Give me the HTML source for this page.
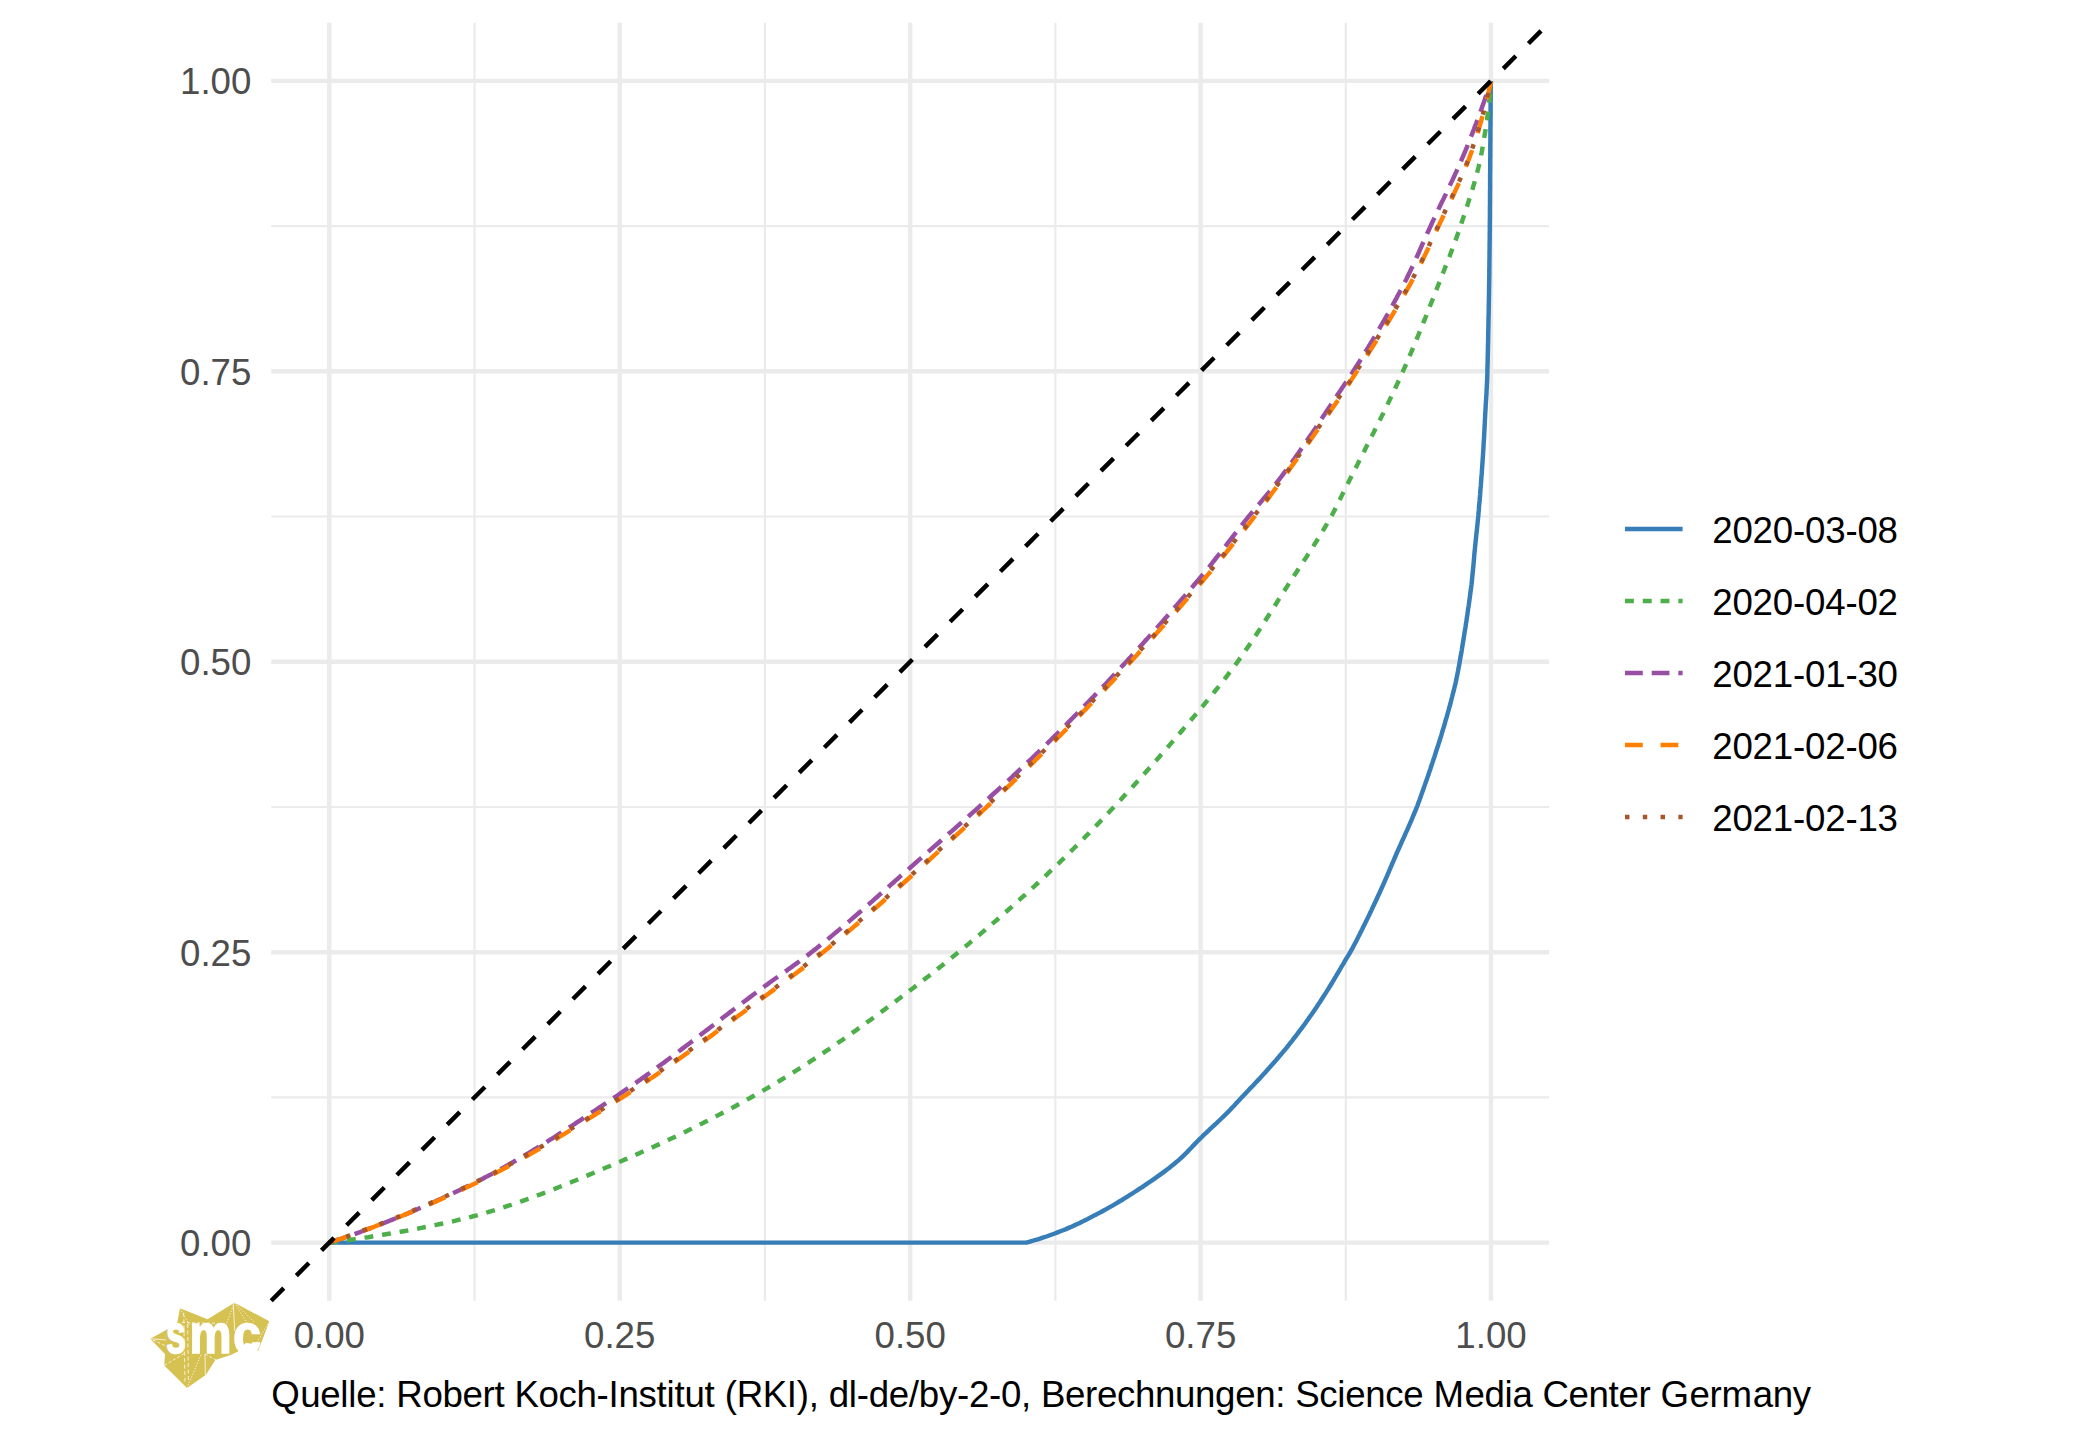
<!DOCTYPE html>
<html lang="de"><head><meta charset="utf-8"><title>Lorenzkurven</title>
<style>html,body{margin:0;padding:0;background:#fff}body{width:2100px;height:1439px;overflow:hidden}svg{display:block}text{font-family:"Liberation Sans",sans-serif;font-size:36.67px}.ax{fill:#4D4D4D}.lg{fill:#000}</style></head><body>
<svg width="2100" height="1439" viewBox="0 0 2100 1439">
<rect width="2100" height="1439" fill="#fff"/>
<g stroke="#EBEBEB" fill="none">
<path d="M271.2,1097.4H1549.1" stroke-width="2.22"/>
<path d="M271.2,807.0H1549.1" stroke-width="2.22"/>
<path d="M271.2,516.5H1549.1" stroke-width="2.22"/>
<path d="M271.2,226.1H1549.1" stroke-width="2.22"/>
<path d="M474.5,22.8V1300.7" stroke-width="2.22"/>
<path d="M764.9,22.8V1300.7" stroke-width="2.22"/>
<path d="M1055.4,22.8V1300.7" stroke-width="2.22"/>
<path d="M1345.8,22.8V1300.7" stroke-width="2.22"/>
<path d="M271.2,1242.6H1549.1" stroke-width="4.4457"/>
<path d="M271.2,952.2H1549.1" stroke-width="4.4457"/>
<path d="M271.2,661.8H1549.1" stroke-width="4.4457"/>
<path d="M271.2,371.3H1549.1" stroke-width="4.4457"/>
<path d="M271.2,80.9H1549.1" stroke-width="4.4457"/>
<path d="M329.3,22.8V1300.7" stroke-width="4.4457"/>
<path d="M619.7,22.8V1300.7" stroke-width="4.4457"/>
<path d="M910.2,22.8V1300.7" stroke-width="4.4457"/>
<path d="M1200.6,22.8V1300.7" stroke-width="4.4457"/>
<path d="M1491.0,22.8V1300.7" stroke-width="4.4457"/>
</g>
<g fill="none" stroke-width="4.4457" stroke-linejoin="round" stroke-linecap="butt">
<path d="M329.3,1242.6 L1026.2,1242.6 L1029.1,1241.8 L1032.0,1241.0 L1034.9,1240.1 L1037.8,1239.3 L1040.7,1238.4 L1043.5,1237.4 L1046.4,1236.5 L1049.2,1235.5 L1052.0,1234.5 L1054.8,1233.5 L1057.6,1232.4 L1060.4,1231.3 L1063.2,1230.2 L1066.0,1229.1 L1068.7,1227.9 L1071.5,1226.7 L1074.2,1225.4 L1076.9,1224.2 L1079.7,1222.9 L1082.4,1221.6 L1085.1,1220.2 L1087.8,1218.9 L1090.4,1217.5 L1093.1,1216.1 L1095.8,1214.8 L1098.4,1213.4 L1101.1,1212.0 L1103.7,1210.5 L1106.3,1209.1 L1108.9,1207.6 L1111.6,1206.1 L1114.2,1204.6 L1116.7,1203.1 L1119.3,1201.5 L1121.9,1200.0 L1124.5,1198.4 L1127.0,1196.8 L1129.6,1195.2 L1132.1,1193.6 L1134.6,1192.0 L1137.1,1190.4 L1139.7,1188.7 L1142.2,1187.1 L1144.7,1185.4 L1147.2,1183.7 L1149.6,1182.0 L1152.1,1180.3 L1154.6,1178.6 L1157.0,1176.9 L1159.5,1175.1 L1161.9,1173.4 L1164.3,1171.6 L1166.7,1169.8 L1169.1,1168.0 L1171.5,1166.1 L1173.8,1164.2 L1176.1,1162.3 L1178.4,1160.4 L1180.6,1158.4 L1182.8,1156.3 L1185.0,1154.2 L1187.1,1152.1 L1189.2,1149.9 L1191.3,1147.8 L1193.3,1145.6 L1195.4,1143.4 L1197.5,1141.3 L1199.6,1139.1 L1201.8,1137.0 L1203.9,1134.9 L1206.1,1132.9 L1208.3,1130.8 L1210.5,1128.7 L1212.7,1126.7 L1214.9,1124.6 L1217.1,1122.6 L1219.3,1120.5 L1221.4,1118.5 L1223.6,1116.4 L1225.7,1114.3 L1227.9,1112.2 L1230.0,1110.0 L1232.0,1107.8 L1234.1,1105.7 L1236.1,1103.4 L1238.2,1101.2 L1240.2,1099.0 L1242.3,1096.8 L1244.3,1094.7 L1246.4,1092.5 L1248.5,1090.3 L1250.5,1088.1 L1252.6,1086.0 L1254.7,1083.8 L1256.7,1081.6 L1258.8,1079.4 L1260.8,1077.2 L1262.8,1075.0 L1264.9,1072.8 L1266.9,1070.5 L1268.9,1068.3 L1270.9,1066.1 L1272.9,1063.8 L1274.9,1061.6 L1276.8,1059.3 L1278.8,1057.0 L1280.7,1054.7 L1282.7,1052.4 L1284.6,1050.1 L1286.5,1047.8 L1288.4,1045.5 L1290.2,1043.1 L1292.1,1040.8 L1293.9,1038.4 L1295.8,1036.0 L1297.6,1033.6 L1299.4,1031.2 L1301.2,1028.8 L1303.0,1026.4 L1304.8,1024.0 L1306.5,1021.5 L1308.3,1019.1 L1310.0,1016.6 L1311.7,1014.2 L1313.4,1011.7 L1315.1,1009.2 L1316.8,1006.7 L1318.4,1004.2 L1320.1,1001.7 L1321.7,999.2 L1323.3,996.7 L1325.0,994.1 L1326.6,991.6 L1328.2,989.1 L1329.8,986.5 L1331.3,984.0 L1332.9,981.4 L1334.4,978.8 L1336.0,976.2 L1337.5,973.6 L1339.0,971.1 L1340.5,968.5 L1342.0,965.9 L1343.6,963.3 L1345.1,960.7 L1346.6,958.1 L1348.2,955.6 L1349.8,953.0 L1351.2,950.4 L1352.7,947.8 L1354.1,945.1 L1355.5,942.5 L1356.9,939.8 L1358.2,937.1 L1359.6,934.4 L1360.9,931.7 L1362.3,929.0 L1363.6,926.3 L1364.9,923.7 L1366.2,921.0 L1367.6,918.3 L1368.9,915.6 L1370.2,912.8 L1371.5,910.1 L1372.7,907.4 L1374.0,904.7 L1375.3,902.0 L1376.6,899.3 L1377.8,896.5 L1379.1,893.8 L1380.3,891.1 L1381.6,888.3 L1382.8,885.6 L1384.0,882.9 L1385.2,880.1 L1386.4,877.4 L1387.6,874.6 L1388.8,871.8 L1389.9,869.1 L1391.1,866.3 L1392.3,863.5 L1393.5,860.8 L1394.7,858.0 L1395.8,855.3 L1397.0,852.5 L1398.3,849.8 L1399.5,847.0 L1400.7,844.3 L1401.9,841.5 L1403.2,838.8 L1404.4,836.1 L1405.6,833.3 L1406.9,830.6 L1408.1,827.8 L1409.3,825.1 L1410.5,822.3 L1411.7,819.6 L1412.8,816.8 L1414.0,814.0 L1415.1,811.3 L1416.3,808.5 L1417.4,805.7 L1418.4,802.9 L1419.5,800.1 L1420.5,797.3 L1421.5,794.4 L1422.5,791.6 L1423.5,788.8 L1424.5,785.9 L1425.5,783.1 L1426.5,780.3 L1427.5,777.4 L1428.5,774.6 L1429.4,771.7 L1430.4,768.9 L1431.3,766.0 L1432.3,763.2 L1433.2,760.3 L1434.2,757.5 L1435.1,754.6 L1436.0,751.8 L1436.9,748.9 L1437.9,746.1 L1438.8,743.2 L1439.7,740.3 L1440.6,737.5 L1441.5,734.6 L1442.3,731.7 L1443.2,728.9 L1444.1,726.0 L1444.9,723.1 L1445.7,720.2 L1446.6,717.3 L1447.4,714.4 L1448.2,711.5 L1449.0,708.7 L1449.8,705.8 L1450.6,702.9 L1451.3,700.0 L1452.1,697.0 L1452.8,694.1 L1453.6,691.2 L1454.3,688.3 L1455.0,685.4 L1455.7,682.5 L1456.3,679.5 L1456.9,676.6 L1457.5,673.6 L1458.1,670.7 L1458.6,667.7 L1459.2,664.8 L1459.7,661.8 L1460.2,658.9 L1460.7,655.9 L1461.3,653.0 L1461.8,650.0 L1462.2,647.0 L1462.7,644.1 L1463.2,641.1 L1463.7,638.2 L1464.2,635.2 L1464.6,632.2 L1465.1,629.3 L1465.6,626.3 L1466.0,623.3 L1466.5,620.4 L1466.9,617.4 L1467.4,614.4 L1467.8,611.4 L1468.2,608.5 L1468.7,605.5 L1469.1,602.5 L1469.5,599.6 L1469.9,596.6 L1470.3,593.6 L1470.7,590.6 L1471.1,587.6 L1471.5,584.7 L1471.8,581.7 L1472.1,578.7 L1472.4,575.7 L1472.7,572.7 L1473.0,569.7 L1473.3,566.8 L1473.6,563.8 L1473.8,560.8 L1474.1,557.8 L1474.3,554.8 L1474.6,551.8 L1474.9,548.8 L1475.2,545.8 L1475.5,542.8 L1475.8,539.8 L1476.1,536.9 L1476.4,533.9 L1476.8,530.9 L1477.1,527.9 L1477.4,524.9 L1477.7,521.9 L1478.0,518.9 L1478.3,515.9 L1478.5,513.0 L1478.8,510.0 L1479.0,507.0 L1479.3,504.0 L1479.6,501.0 L1479.8,498.0 L1480.1,495.0 L1480.3,492.0 L1480.5,489.0 L1480.8,486.0 L1481.0,483.0 L1481.2,480.0 L1481.4,477.0 L1481.7,474.0 L1481.9,471.1 L1482.1,468.1 L1482.3,465.1 L1482.5,462.1 L1482.7,459.1 L1482.9,456.1 L1483.1,453.1 L1483.3,450.1 L1483.5,447.1 L1483.6,444.1 L1483.8,441.1 L1484.0,438.1 L1484.2,435.1 L1484.3,432.1 L1484.5,429.1 L1484.6,426.1 L1484.8,423.1 L1484.9,420.1 L1485.1,417.1 L1485.2,414.1 L1485.4,411.1 L1485.6,408.1 L1485.7,405.1 L1485.9,402.1 L1486.1,399.1 L1486.3,396.1 L1486.5,393.1 L1486.6,390.1 L1486.8,387.1 L1486.9,384.1 L1487.1,381.1 L1487.2,378.1 L1487.3,375.1 L1487.4,372.1 L1487.4,369.1 L1487.5,366.1 L1487.6,363.1 L1487.7,360.1 L1487.7,357.1 L1487.8,354.1 L1487.9,351.1 L1487.9,348.1 L1488.0,345.1 L1488.1,342.1 L1488.1,339.1 L1488.2,336.1 L1488.2,333.1 L1488.3,330.1 L1488.4,327.1 L1488.4,324.1 L1488.5,321.1 L1488.5,318.1 L1488.6,315.1 L1488.7,312.1 L1488.7,309.1 L1488.8,306.1 L1488.8,303.1 L1488.9,300.1 L1488.9,297.1 L1489.0,294.1 L1489.0,291.1 L1489.1,288.1 L1489.1,285.1 L1489.2,282.1 L1489.2,279.1 L1489.3,276.1 L1489.3,273.1 L1489.3,270.1 L1489.4,267.1 L1489.4,264.1 L1489.4,261.0 L1489.5,258.0 L1489.5,255.0 L1489.5,252.0 L1489.6,249.0 L1489.6,246.0 L1489.6,243.0 L1489.7,240.0 L1489.7,237.0 L1489.7,234.0 L1489.8,231.0 L1489.8,228.0 L1489.8,225.0 L1489.8,222.0 L1489.9,219.0 L1489.9,216.0 L1489.9,213.0 L1489.9,210.0 L1489.9,207.0 L1490.0,204.0 L1490.0,201.0 L1490.0,198.0 L1490.0,195.0 L1490.0,192.0 L1490.1,189.0 L1490.1,186.0 L1490.1,183.0 L1490.1,180.0 L1490.1,177.0 L1490.1,174.0 L1490.2,171.0 L1490.2,168.0 L1490.2,165.0 L1490.2,162.0 L1490.2,159.0 L1490.3,156.0 L1490.3,153.0 L1490.3,150.0 L1490.3,147.0 L1490.3,144.0 L1490.4,140.9 L1490.4,137.9 L1490.4,134.9 L1490.4,131.9 L1490.4,128.9 L1490.5,125.9 L1490.5,122.9 L1490.5,119.9 L1490.5,116.9 L1490.6,113.9 L1490.6,110.9 L1490.6,107.9 L1490.6,104.9 L1490.6,101.9 L1490.7,98.9 L1490.7,95.9 L1490.7,92.9 L1490.7,89.9 L1490.8,86.9 L1490.8,83.9 L1490.8,80.9" stroke="#377EB8"/>
<path d="M329.3,1242.6 L332.3,1242.2 L335.3,1241.8 L338.3,1241.5 L341.2,1241.1 L344.2,1240.7 L347.2,1240.3 L350.2,1239.8 L353.1,1239.4 L356.1,1239.0 L359.1,1238.5 L362.1,1238.1 L365.0,1237.6 L368.0,1237.2 L371.0,1236.7 L373.9,1236.2 L376.9,1235.8 L379.9,1235.3 L382.8,1234.8 L385.8,1234.3 L388.8,1233.8 L391.7,1233.3 L394.7,1232.8 L397.6,1232.2 L400.6,1231.7 L403.5,1231.2 L406.5,1230.7 L409.4,1230.1 L412.4,1229.6 L415.4,1229.0 L418.3,1228.5 L421.3,1227.9 L424.2,1227.3 L427.2,1226.7 L430.1,1226.1 L433.1,1225.5 L436.1,1224.9 L439.0,1224.3 L441.9,1223.7 L444.9,1223.1 L447.8,1222.4 L450.8,1221.7 L453.7,1221.1 L456.6,1220.4 L459.5,1219.7 L462.4,1219.0 L465.4,1218.3 L468.3,1217.5 L471.1,1216.8 L474.0,1216.0 L476.9,1215.3 L479.8,1214.5 L482.7,1213.7 L485.5,1212.9 L488.4,1212.0 L491.3,1211.2 L494.1,1210.3 L497.0,1209.4 L499.9,1208.5 L502.7,1207.6 L505.6,1206.7 L508.4,1205.7 L511.3,1204.8 L514.1,1203.8 L517.0,1202.9 L519.8,1201.9 L522.7,1200.9 L525.5,1199.9 L528.3,1198.8 L531.2,1197.8 L534.0,1196.8 L536.8,1195.7 L539.6,1194.7 L542.4,1193.6 L545.3,1192.5 L548.1,1191.4 L550.9,1190.3 L553.7,1189.2 L556.5,1188.1 L559.3,1187.0 L562.1,1185.9 L564.9,1184.8 L567.7,1183.6 L570.5,1182.5 L573.3,1181.3 L576.1,1180.2 L578.9,1179.0 L581.7,1177.9 L584.5,1176.7 L587.2,1175.6 L590.0,1174.4 L592.8,1173.2 L595.6,1172.0 L598.3,1170.9 L601.1,1169.7 L603.9,1168.5 L606.6,1167.3 L609.4,1166.2 L612.1,1165.0 L614.9,1163.8 L617.7,1162.6 L620.4,1161.5 L623.2,1160.3 L625.9,1159.1 L628.7,1157.9 L631.4,1156.7 L634.2,1155.5 L636.9,1154.3 L639.7,1153.1 L642.4,1151.8 L645.1,1150.6 L647.9,1149.4 L650.6,1148.1 L653.4,1146.9 L656.1,1145.6 L658.8,1144.4 L661.6,1143.1 L664.3,1141.8 L667.0,1140.6 L669.7,1139.3 L672.5,1138.0 L675.2,1136.7 L677.9,1135.4 L680.6,1134.1 L683.3,1132.8 L686.1,1131.4 L688.8,1130.1 L691.5,1128.8 L694.2,1127.4 L696.9,1126.1 L699.6,1124.7 L702.3,1123.4 L704.9,1122.0 L707.6,1120.7 L710.3,1119.3 L713.0,1117.9 L715.7,1116.5 L718.3,1115.1 L721.0,1113.7 L723.7,1112.3 L726.3,1110.9 L729.0,1109.5 L731.6,1108.1 L734.3,1106.7 L736.9,1105.2 L739.5,1103.8 L742.2,1102.3 L744.8,1100.9 L747.4,1099.4 L750.0,1098.0 L752.6,1096.5 L755.2,1095.0 L757.8,1093.6 L760.4,1092.1 L763.0,1090.6 L765.6,1089.1 L768.2,1087.6 L770.8,1086.1 L773.3,1084.6 L775.9,1083.0 L778.5,1081.5 L781.0,1080.0 L783.6,1078.4 L786.2,1076.8 L788.7,1075.3 L791.3,1073.7 L793.8,1072.1 L796.3,1070.5 L798.9,1068.9 L801.4,1067.3 L803.9,1065.7 L806.5,1064.0 L809.0,1062.4 L811.5,1060.7 L814.0,1059.1 L816.5,1057.4 L819.1,1055.8 L821.6,1054.1 L824.1,1052.4 L826.6,1050.7 L829.1,1049.1 L831.6,1047.4 L834.0,1045.7 L836.5,1043.9 L839.0,1042.2 L841.5,1040.5 L844.0,1038.8 L846.4,1037.1 L848.9,1035.3 L851.4,1033.6 L853.8,1031.8 L856.3,1030.1 L858.7,1028.3 L861.2,1026.6 L863.6,1024.8 L866.1,1023.1 L868.5,1021.3 L871.0,1019.5 L873.4,1017.8 L875.8,1016.0 L878.3,1014.2 L880.7,1012.4 L883.1,1010.6 L885.5,1008.8 L887.9,1007.0 L890.3,1005.2 L892.8,1003.4 L895.2,1001.6 L897.6,999.8 L900.0,998.0 L902.3,996.2 L904.7,994.4 L907.1,992.6 L909.5,990.8 L911.9,989.0 L914.3,987.2 L916.6,985.3 L919.0,983.5 L921.4,981.7 L923.8,979.8 L926.1,978.0 L928.5,976.2 L930.9,974.3 L933.2,972.5 L935.6,970.6 L937.9,968.7 L940.3,966.9 L942.6,965.0 L945.0,963.1 L947.3,961.2 L949.7,959.3 L952.0,957.4 L954.4,955.5 L956.7,953.6 L959.0,951.7 L961.4,949.8 L963.7,947.9 L966.0,946.0 L968.3,944.1 L970.6,942.1 L973.0,940.2 L975.3,938.3 L977.6,936.3 L979.9,934.4 L982.2,932.4 L984.5,930.5 L986.8,928.5 L989.1,926.6 L991.3,924.6 L993.6,922.6 L995.9,920.7 L998.2,918.7 L1000.4,916.7 L1002.7,914.7 L1005.0,912.7 L1007.2,910.8 L1009.5,908.8 L1011.7,906.8 L1014.0,904.8 L1016.2,902.7 L1018.5,900.7 L1020.7,898.7 L1022.9,896.7 L1025.2,894.7 L1027.4,892.7 L1029.6,890.6 L1031.8,888.6 L1034.0,886.6 L1036.2,884.5 L1038.4,882.5 L1040.6,880.4 L1042.8,878.4 L1045.0,876.3 L1047.1,874.3 L1049.3,872.2 L1051.5,870.2 L1053.6,868.1 L1055.8,866.0 L1058.0,864.0 L1060.1,861.9 L1062.2,859.8 L1064.4,857.7 L1066.5,855.6 L1068.7,853.5 L1070.8,851.4 L1072.9,849.3 L1075.0,847.2 L1077.2,845.1 L1079.3,842.9 L1081.4,840.8 L1083.5,838.7 L1085.6,836.5 L1087.7,834.4 L1089.8,832.2 L1091.9,830.1 L1094.0,827.9 L1096.1,825.8 L1098.2,823.6 L1100.2,821.4 L1102.3,819.3 L1104.4,817.1 L1106.5,814.9 L1108.5,812.7 L1110.6,810.5 L1112.7,808.3 L1114.7,806.1 L1116.8,803.9 L1118.8,801.7 L1120.9,799.5 L1122.9,797.3 L1124.9,795.1 L1127.0,792.9 L1129.0,790.7 L1131.1,788.4 L1133.1,786.2 L1135.1,784.0 L1137.1,781.7 L1139.1,779.5 L1141.2,777.3 L1143.2,775.0 L1145.2,772.8 L1147.2,770.5 L1149.2,768.3 L1151.2,766.0 L1153.2,763.8 L1155.2,761.5 L1157.2,759.3 L1159.2,757.0 L1161.1,754.7 L1163.1,752.5 L1165.1,750.2 L1167.1,747.9 L1169.1,745.6 L1171.0,743.4 L1173.0,741.1 L1175.0,738.8 L1176.9,736.5 L1178.9,734.3 L1180.8,732.0 L1182.8,729.7 L1184.7,727.4 L1186.7,725.1 L1188.6,722.8 L1190.6,720.5 L1192.5,718.2 L1194.5,715.9 L1196.4,713.7 L1198.3,711.4 L1200.2,709.1 L1202.2,706.8 L1204.1,704.5 L1206.0,702.1 L1207.9,699.8 L1209.8,697.5 L1211.7,695.2 L1213.6,692.8 L1215.5,690.5 L1217.4,688.2 L1219.3,685.8 L1221.1,683.4 L1223.0,681.1 L1224.9,678.7 L1226.7,676.3 L1228.5,673.9 L1230.3,671.5 L1232.1,669.1 L1233.9,666.7 L1235.7,664.3 L1237.5,661.9 L1239.2,659.5 L1241.0,657.0 L1242.7,654.6 L1244.4,652.1 L1246.1,649.6 L1247.8,647.2 L1249.5,644.7 L1251.2,642.2 L1252.8,639.7 L1254.5,637.2 L1256.2,634.7 L1257.8,632.2 L1259.5,629.7 L1261.1,627.1 L1262.7,624.6 L1264.4,622.1 L1266.0,619.5 L1267.6,617.0 L1269.2,614.5 L1270.8,611.9 L1272.4,609.4 L1274.1,606.9 L1275.7,604.3 L1277.3,601.8 L1278.9,599.2 L1280.5,596.7 L1282.1,594.2 L1283.8,591.6 L1285.4,589.1 L1287.0,586.6 L1288.6,584.1 L1290.3,581.5 L1291.9,579.0 L1293.6,576.5 L1295.2,574.0 L1296.9,571.5 L1298.5,569.0 L1300.2,566.5 L1301.8,563.9 L1303.5,561.4 L1305.1,558.9 L1306.8,556.4 L1308.4,553.9 L1310.0,551.3 L1311.7,548.8 L1313.3,546.3 L1314.9,543.7 L1316.5,541.2 L1318.1,538.6 L1319.7,536.1 L1321.2,533.5 L1322.8,530.9 L1324.3,528.4 L1325.8,525.8 L1327.3,523.2 L1328.8,520.6 L1330.3,518.0 L1331.8,515.4 L1333.2,512.7 L1334.6,510.1 L1336.0,507.4 L1337.3,504.7 L1338.6,502.0 L1340.0,499.3 L1341.3,496.6 L1342.6,493.9 L1344.0,491.2 L1345.3,488.5 L1346.6,485.8 L1348.0,483.2 L1349.3,480.5 L1350.7,477.8 L1352.0,475.1 L1353.4,472.4 L1354.7,469.7 L1356.1,467.1 L1357.5,464.4 L1358.8,461.7 L1360.2,459.0 L1361.6,456.3 L1362.9,453.7 L1364.3,451.0 L1365.6,448.3 L1367.0,445.6 L1368.4,442.9 L1369.7,440.3 L1371.1,437.6 L1372.4,434.9 L1373.8,432.2 L1375.1,429.5 L1376.5,426.8 L1377.8,424.1 L1379.2,421.4 L1380.5,418.8 L1381.8,416.1 L1383.2,413.4 L1384.5,410.7 L1385.8,408.0 L1387.1,405.3 L1388.4,402.6 L1389.7,399.9 L1391.0,397.1 L1392.3,394.4 L1393.6,391.7 L1394.9,389.0 L1396.1,386.3 L1397.4,383.6 L1398.7,380.8 L1399.9,378.1 L1401.1,375.4 L1402.4,372.6 L1403.6,369.9 L1404.8,367.1 L1406.0,364.4 L1407.2,361.6 L1408.4,358.9 L1409.6,356.1 L1410.7,353.4 L1411.9,350.6 L1413.1,347.8 L1414.2,345.1 L1415.4,342.3 L1416.5,339.5 L1417.7,336.7 L1418.8,334.0 L1420.0,331.2 L1421.1,328.4 L1422.2,325.6 L1423.3,322.8 L1424.5,320.0 L1425.6,317.2 L1426.7,314.4 L1427.8,311.6 L1428.9,308.8 L1430.0,306.0 L1431.1,303.2 L1432.2,300.5 L1433.3,297.7 L1434.4,294.9 L1435.5,292.1 L1436.6,289.3 L1437.7,286.5 L1438.8,283.7 L1439.9,280.9 L1441.0,278.1 L1442.1,275.3 L1443.2,272.5 L1444.3,269.7 L1445.4,266.9 L1446.5,264.1 L1447.6,261.3 L1448.7,258.5 L1449.8,255.7 L1450.8,252.9 L1451.9,250.1 L1453.0,247.2 L1454.0,244.4 L1455.1,241.6 L1456.1,238.8 L1457.1,236.0 L1458.1,233.1 L1459.1,230.3 L1460.1,227.5 L1461.0,224.6 L1461.9,221.8 L1462.9,218.9 L1463.8,216.1 L1464.8,213.2 L1465.7,210.3 L1466.7,207.5 L1467.6,204.6 L1468.5,201.7 L1469.4,198.9 L1470.4,196.0 L1471.3,193.1 L1472.2,190.2 L1473.0,187.3 L1473.9,184.4 L1474.7,181.5 L1475.5,178.6 L1476.3,175.7 L1477.1,172.8 L1477.8,169.9 L1478.6,167.0 L1479.3,164.1 L1479.9,161.2 L1480.5,158.3 L1481.1,155.3 L1481.7,152.4 L1482.2,149.5 L1482.7,146.5 L1483.2,143.6 L1483.7,140.6 L1484.2,137.7 L1484.7,134.7 L1485.2,131.8 L1485.7,128.8 L1486.1,125.8 L1486.5,122.9 L1487.0,119.9 L1487.4,116.9 L1487.8,113.9 L1488.2,111.0 L1488.5,108.0 L1488.9,105.0 L1489.2,102.0 L1489.5,99.0 L1489.8,96.0 L1490.1,93.0 L1490.4,90.0 L1490.6,86.9 L1490.8,83.9 L1491.0,80.9" stroke="#4DAF4A" stroke-dasharray="8.89,8.89"/>
<path d="M329.3,1242.6 L332.2,1241.7 L335.1,1240.7 L337.9,1239.7 L340.8,1238.8 L343.7,1237.8 L346.5,1236.8 L349.4,1235.8 L352.2,1234.8 L355.1,1233.8 L357.9,1232.8 L360.8,1231.8 L363.6,1230.7 L366.4,1229.7 L369.3,1228.6 L372.1,1227.6 L374.9,1226.5 L377.7,1225.4 L380.6,1224.3 L383.4,1223.2 L386.2,1222.1 L389.0,1221.0 L391.8,1219.9 L394.6,1218.8 L397.4,1217.7 L400.2,1216.5 L402.9,1215.4 L405.7,1214.2 L408.5,1213.1 L411.3,1211.9 L414.0,1210.7 L416.8,1209.5 L419.5,1208.3 L422.3,1207.1 L425.1,1205.9 L427.8,1204.7 L430.5,1203.5 L433.3,1202.3 L436.0,1201.1 L438.7,1199.8 L441.5,1198.6 L444.2,1197.3 L446.9,1196.1 L449.6,1194.8 L452.3,1193.6 L455.0,1192.3 L457.7,1191.0 L460.4,1189.7 L463.1,1188.4 L465.8,1187.1 L468.5,1185.8 L471.1,1184.5 L473.8,1183.2 L476.5,1181.9 L479.1,1180.5 L481.8,1179.2 L484.4,1177.8 L487.1,1176.4 L489.7,1175.1 L492.4,1173.6 L495.0,1172.2 L497.6,1170.8 L500.3,1169.4 L502.9,1167.9 L505.5,1166.5 L508.1,1165.0 L510.7,1163.5 L513.3,1162.0 L515.9,1160.5 L518.5,1159.0 L521.1,1157.5 L523.7,1156.0 L526.3,1154.4 L528.9,1152.9 L531.4,1151.3 L534.0,1149.7 L536.6,1148.2 L539.2,1146.6 L541.7,1145.0 L544.3,1143.4 L546.8,1141.8 L549.4,1140.2 L552.0,1138.6 L554.5,1137.0 L557.0,1135.4 L559.6,1133.7 L562.1,1132.1 L564.7,1130.5 L567.2,1128.8 L569.7,1127.2 L572.3,1125.5 L574.8,1123.9 L577.3,1122.2 L579.8,1120.6 L582.3,1118.9 L584.9,1117.2 L587.4,1115.6 L589.9,1113.9 L592.4,1112.2 L594.9,1110.5 L597.4,1108.9 L599.9,1107.2 L602.4,1105.5 L604.9,1103.8 L607.4,1102.2 L609.9,1100.5 L612.4,1098.8 L614.9,1097.1 L617.4,1095.5 L619.8,1093.8 L622.3,1092.1 L624.8,1090.4 L627.3,1088.7 L629.7,1087.0 L632.2,1085.3 L634.7,1083.6 L637.1,1081.9 L639.6,1080.2 L642.0,1078.4 L644.5,1076.7 L646.9,1074.9 L649.3,1073.2 L651.8,1071.4 L654.2,1069.7 L656.6,1067.9 L659.0,1066.1 L661.5,1064.3 L663.9,1062.6 L666.3,1060.8 L668.7,1059.0 L671.1,1057.2 L673.5,1055.4 L675.9,1053.6 L678.3,1051.8 L680.7,1049.9 L683.1,1048.1 L685.5,1046.3 L687.9,1044.5 L690.3,1042.7 L692.7,1040.9 L695.1,1039.0 L697.5,1037.2 L699.9,1035.4 L702.2,1033.5 L704.6,1031.7 L707.0,1029.9 L709.4,1028.1 L711.8,1026.2 L714.2,1024.4 L716.6,1022.6 L719.0,1020.7 L721.4,1018.9 L723.7,1017.1 L726.1,1015.3 L728.5,1013.4 L730.9,1011.6 L733.3,1009.8 L735.7,1008.0 L738.1,1006.1 L740.5,1004.3 L742.9,1002.5 L745.3,1000.7 L747.7,998.9 L750.1,997.1 L752.5,995.3 L754.9,993.5 L757.3,991.7 L759.7,989.9 L762.2,988.1 L764.6,986.3 L767.0,984.6 L769.4,982.8 L771.9,981.0 L774.3,979.3 L776.8,977.5 L779.2,975.8 L781.7,974.1 L784.1,972.3 L786.6,970.6 L789.0,968.8 L791.5,967.1 L793.9,965.3 L796.3,963.6 L798.8,961.8 L801.2,960.0 L803.6,958.2 L806.0,956.4 L808.4,954.6 L810.8,952.8 L813.1,950.9 L815.5,949.1 L817.8,947.2 L820.2,945.3 L822.5,943.4 L824.8,941.6 L827.2,939.7 L829.5,937.8 L831.8,935.9 L834.1,933.9 L836.4,932.0 L838.7,930.1 L841.0,928.2 L843.3,926.2 L845.6,924.3 L847.9,922.3 L850.2,920.4 L852.5,918.4 L854.7,916.5 L857.0,914.5 L859.3,912.5 L861.6,910.6 L863.8,908.6 L866.1,906.6 L868.4,904.6 L870.6,902.6 L872.9,900.7 L875.1,898.7 L877.4,896.7 L879.6,894.7 L881.9,892.7 L884.2,890.7 L886.4,888.7 L888.7,886.7 L890.9,884.7 L893.2,882.7 L895.4,880.7 L897.7,878.7 L899.9,876.7 L902.2,874.7 L904.4,872.8 L906.7,870.8 L908.9,868.8 L911.2,866.8 L913.4,864.8 L915.7,862.8 L917.9,860.8 L920.2,858.9 L922.4,856.9 L924.7,854.9 L927.0,852.9 L929.2,850.9 L931.5,848.9 L933.7,846.9 L936.0,845.0 L938.3,843.0 L940.5,841.0 L942.8,839.0 L945.0,837.0 L947.3,835.0 L949.5,833.0 L951.8,831.1 L954.1,829.1 L956.3,827.1 L958.6,825.1 L960.8,823.1 L963.1,821.1 L965.3,819.1 L967.6,817.1 L969.8,815.1 L972.1,813.1 L974.3,811.1 L976.6,809.1 L978.8,807.1 L981.0,805.1 L983.3,803.1 L985.5,801.1 L987.8,799.1 L990.0,797.0 L992.2,795.0 L994.4,793.0 L996.7,791.0 L998.9,789.0 L1001.1,786.9 L1003.3,784.9 L1005.6,782.9 L1007.8,780.8 L1010.0,778.8 L1012.2,776.8 L1014.4,774.7 L1016.6,772.7 L1018.8,770.6 L1021.0,768.6 L1023.2,766.5 L1025.4,764.5 L1027.5,762.4 L1029.7,760.3 L1031.9,758.3 L1034.1,756.2 L1036.2,754.1 L1038.4,752.0 L1040.5,750.0 L1042.7,747.9 L1044.8,745.8 L1047.0,743.7 L1049.1,741.6 L1051.3,739.5 L1053.4,737.4 L1055.5,735.3 L1057.6,733.2 L1059.8,731.0 L1061.9,728.9 L1064.0,726.8 L1066.1,724.7 L1068.2,722.5 L1070.3,720.4 L1072.4,718.3 L1074.5,716.1 L1076.6,714.0 L1078.7,711.8 L1080.8,709.7 L1082.9,707.5 L1085.0,705.4 L1087.1,703.2 L1089.2,701.1 L1091.3,698.9 L1093.4,696.7 L1095.4,694.6 L1097.5,692.4 L1099.6,690.2 L1101.7,688.0 L1103.7,685.8 L1105.8,683.7 L1107.9,681.5 L1109.9,679.3 L1112.0,677.1 L1114.0,674.9 L1116.1,672.7 L1118.1,670.5 L1120.2,668.3 L1122.2,666.1 L1124.3,663.9 L1126.3,661.6 L1128.3,659.4 L1130.4,657.2 L1132.4,655.0 L1134.4,652.8 L1136.5,650.5 L1138.5,648.3 L1140.5,646.1 L1142.5,643.9 L1144.5,641.6 L1146.6,639.4 L1148.6,637.1 L1150.6,634.9 L1152.6,632.7 L1154.6,630.4 L1156.6,628.2 L1158.6,625.9 L1160.6,623.7 L1162.6,621.4 L1164.5,619.1 L1166.5,616.9 L1168.5,614.6 L1170.5,612.4 L1172.5,610.1 L1174.4,607.8 L1176.4,605.6 L1178.4,603.3 L1180.3,601.0 L1182.3,598.7 L1184.3,596.5 L1186.2,594.2 L1188.2,591.9 L1190.1,589.6 L1192.1,587.3 L1194.0,585.0 L1195.9,582.8 L1197.9,580.5 L1199.8,578.2 L1201.7,575.9 L1203.7,573.6 L1205.6,571.3 L1207.5,568.9 L1209.4,566.6 L1211.2,564.3 L1213.1,561.9 L1215.0,559.5 L1216.8,557.2 L1218.7,554.8 L1220.5,552.5 L1222.4,550.1 L1224.2,547.7 L1226.1,545.3 L1227.9,542.9 L1229.7,540.6 L1231.6,538.2 L1233.4,535.8 L1235.3,533.4 L1237.1,531.1 L1239.0,528.7 L1240.8,526.3 L1242.7,524.0 L1244.5,521.6 L1246.4,519.3 L1248.3,516.9 L1250.2,514.6 L1252.1,512.3 L1254.0,510.0 L1256.0,507.7 L1257.9,505.4 L1259.9,503.1 L1261.8,500.8 L1263.7,498.5 L1265.7,496.2 L1267.6,493.9 L1269.5,491.6 L1271.5,489.3 L1273.3,486.9 L1275.2,484.6 L1277.1,482.2 L1278.9,479.9 L1280.7,477.5 L1282.5,475.1 L1284.3,472.7 L1286.1,470.3 L1287.9,467.8 L1289.6,465.4 L1291.4,463.0 L1293.1,460.5 L1294.9,458.1 L1296.6,455.6 L1298.3,453.2 L1300.0,450.7 L1301.8,448.3 L1303.5,445.8 L1305.2,443.3 L1306.9,440.8 L1308.5,438.3 L1310.2,435.9 L1311.9,433.4 L1313.6,430.9 L1315.3,428.4 L1316.9,425.9 L1318.6,423.4 L1320.3,420.9 L1321.9,418.4 L1323.6,415.8 L1325.3,413.3 L1326.9,410.8 L1328.6,408.3 L1330.3,405.8 L1331.9,403.3 L1333.6,400.8 L1335.3,398.3 L1336.9,395.8 L1338.6,393.3 L1340.3,390.8 L1341.9,388.3 L1343.6,385.8 L1345.3,383.3 L1347.0,380.8 L1348.7,378.3 L1350.4,375.8 L1352.0,373.3 L1353.6,370.8 L1355.2,368.3 L1356.8,365.7 L1358.4,363.2 L1360.0,360.7 L1361.6,358.1 L1363.2,355.5 L1364.8,353.0 L1366.3,350.4 L1367.9,347.8 L1369.5,345.3 L1371.0,342.7 L1372.6,340.1 L1374.1,337.5 L1375.6,334.9 L1377.2,332.3 L1378.7,329.8 L1380.2,327.2 L1381.7,324.5 L1383.2,321.9 L1384.7,319.3 L1386.2,316.7 L1387.7,314.1 L1389.1,311.5 L1390.6,308.8 L1392.1,306.2 L1393.5,303.6 L1394.9,300.9 L1396.4,298.3 L1397.8,295.6 L1399.2,293.0 L1400.6,290.3 L1402.0,287.7 L1403.3,285.0 L1404.7,282.3 L1406.1,279.7 L1407.4,277.0 L1408.7,274.3 L1410.0,271.6 L1411.3,268.9 L1412.6,266.2 L1413.8,263.4 L1415.1,260.7 L1416.3,258.0 L1417.6,255.2 L1418.8,252.5 L1420.0,249.7 L1421.2,247.0 L1422.4,244.2 L1423.7,241.5 L1424.9,238.7 L1426.1,236.0 L1427.3,233.2 L1428.6,230.5 L1429.8,227.8 L1431.1,225.0 L1432.3,222.3 L1433.6,219.6 L1434.9,216.9 L1436.2,214.1 L1437.4,211.4 L1438.7,208.7 L1440.0,206.0 L1441.3,203.3 L1442.7,200.6 L1444.0,197.9 L1445.3,195.2 L1446.6,192.4 L1447.9,189.7 L1449.2,187.0 L1450.4,184.3 L1451.7,181.6 L1453.0,178.9 L1454.3,176.1 L1455.5,173.4 L1456.8,170.7 L1458.0,167.9 L1459.2,165.2 L1460.4,162.5 L1461.6,159.7 L1462.8,156.9 L1464.0,154.2 L1465.1,151.4 L1466.3,148.6 L1467.4,145.9 L1468.5,143.1 L1469.6,140.3 L1470.7,137.5 L1471.8,134.7 L1472.9,131.9 L1474.0,129.1 L1475.0,126.3 L1476.1,123.5 L1477.1,120.7 L1478.2,117.9 L1479.2,115.0 L1480.3,112.2 L1481.3,109.4 L1482.3,106.5 L1483.3,103.7 L1484.3,100.9 L1485.3,98.0 L1486.3,95.2 L1487.2,92.3 L1488.2,89.5 L1489.1,86.6 L1490.1,83.8 L1491.0,80.9" stroke="#984EA3" stroke-dasharray="17.78,8.89"/>
<path d="M329.3,1242.6 L332.2,1241.7 L335.0,1240.7 L337.9,1239.7 L340.8,1238.8 L343.6,1237.8 L346.5,1236.8 L349.3,1235.8 L352.2,1234.8 L355.0,1233.8 L357.8,1232.8 L360.7,1231.7 L363.5,1230.7 L366.3,1229.7 L369.2,1228.6 L372.0,1227.6 L374.8,1226.5 L377.6,1225.4 L380.4,1224.4 L383.2,1223.3 L386.0,1222.2 L388.8,1221.1 L391.6,1220.0 L394.4,1218.9 L397.2,1217.8 L400.0,1216.7 L402.8,1215.5 L405.6,1214.4 L408.4,1213.2 L411.1,1212.1 L413.9,1210.9 L416.7,1209.8 L419.4,1208.6 L422.2,1207.4 L424.9,1206.2 L427.7,1205.1 L430.4,1203.9 L433.2,1202.7 L435.9,1201.5 L438.6,1200.2 L441.4,1199.0 L444.1,1197.8 L446.8,1196.6 L449.6,1195.3 L452.3,1194.1 L455.0,1192.8 L457.7,1191.6 L460.4,1190.3 L463.1,1189.1 L465.8,1187.8 L468.5,1186.5 L471.2,1185.2 L473.9,1184.0 L476.6,1182.7 L479.2,1181.4 L481.9,1180.0 L484.6,1178.7 L487.2,1177.4 L489.9,1176.0 L492.6,1174.7 L495.2,1173.3 L497.9,1171.9 L500.5,1170.5 L503.2,1169.1 L505.8,1167.7 L508.4,1166.3 L511.1,1164.8 L513.7,1163.4 L516.3,1162.0 L519.0,1160.5 L521.6,1159.0 L524.2,1157.6 L526.8,1156.1 L529.4,1154.6 L532.0,1153.1 L534.6,1151.6 L537.2,1150.1 L539.8,1148.6 L542.4,1147.0 L545.0,1145.5 L547.6,1144.0 L550.2,1142.4 L552.8,1140.9 L555.4,1139.3 L557.9,1137.8 L560.5,1136.2 L563.1,1134.6 L565.7,1133.1 L568.2,1131.5 L570.8,1129.9 L573.4,1128.3 L575.9,1126.7 L578.5,1125.1 L581.0,1123.5 L583.6,1121.9 L586.1,1120.3 L588.7,1118.7 L591.2,1117.1 L593.8,1115.5 L596.3,1113.9 L598.8,1112.3 L601.4,1110.7 L603.9,1109.1 L606.4,1107.5 L609.0,1105.9 L611.5,1104.3 L614.0,1102.6 L616.5,1101.0 L619.1,1099.4 L621.6,1097.8 L624.1,1096.2 L626.6,1094.6 L629.1,1092.9 L631.6,1091.3 L634.1,1089.6 L636.6,1088.0 L639.1,1086.3 L641.6,1084.7 L644.1,1083.0 L646.6,1081.3 L649.1,1079.6 L651.5,1078.0 L654.0,1076.3 L656.5,1074.6 L659.0,1072.9 L661.4,1071.2 L663.9,1069.5 L666.4,1067.8 L668.8,1066.0 L671.3,1064.3 L673.7,1062.6 L676.2,1060.9 L678.6,1059.1 L681.1,1057.4 L683.5,1055.7 L686.0,1053.9 L688.4,1052.2 L690.9,1050.4 L693.3,1048.7 L695.8,1046.9 L698.2,1045.2 L700.6,1043.4 L703.1,1041.6 L705.5,1039.9 L707.9,1038.1 L710.4,1036.4 L712.8,1034.6 L715.2,1032.8 L717.6,1031.0 L720.1,1029.3 L722.5,1027.5 L724.9,1025.7 L727.3,1023.9 L729.8,1022.2 L732.2,1020.4 L734.6,1018.6 L737.0,1016.8 L739.4,1015.0 L741.9,1013.3 L744.3,1011.5 L746.7,1009.7 L749.1,1007.9 L751.5,1006.1 L753.9,1004.4 L756.4,1002.6 L758.8,1000.8 L761.2,999.0 L763.6,997.3 L766.0,995.5 L768.4,993.7 L770.9,991.9 L773.3,990.1 L775.7,988.4 L778.1,986.6 L780.5,984.8 L782.9,983.0 L785.3,981.2 L787.8,979.4 L790.2,977.6 L792.6,975.8 L795.0,974.0 L797.4,972.2 L799.8,970.4 L802.2,968.6 L804.5,966.8 L806.9,965.0 L809.3,963.1 L811.7,961.3 L814.0,959.5 L816.4,957.6 L818.7,955.7 L821.1,953.9 L823.4,952.0 L825.8,950.1 L828.1,948.2 L830.4,946.3 L832.7,944.4 L835.0,942.5 L837.4,940.6 L839.7,938.7 L842.0,936.8 L844.3,934.9 L846.6,932.9 L848.9,931.0 L851.1,929.1 L853.4,927.1 L855.7,925.2 L858.0,923.2 L860.3,921.3 L862.5,919.3 L864.8,917.3 L867.1,915.4 L869.3,913.4 L871.6,911.4 L873.9,909.4 L876.1,907.5 L878.4,905.5 L880.6,903.5 L882.9,901.5 L885.1,899.5 L887.4,897.5 L889.6,895.5 L891.9,893.5 L894.1,891.5 L896.3,889.5 L898.6,887.5 L900.8,885.5 L903.1,883.5 L905.3,881.5 L907.5,879.5 L909.7,877.5 L912.0,875.5 L914.2,873.5 L916.4,871.5 L918.7,869.5 L920.9,867.5 L923.1,865.5 L925.3,863.5 L927.6,861.5 L929.8,859.5 L932.0,857.4 L934.2,855.4 L936.5,853.4 L938.7,851.4 L940.9,849.4 L943.1,847.3 L945.3,845.3 L947.5,843.3 L949.8,841.3 L952.0,839.2 L954.2,837.2 L956.4,835.2 L958.6,833.1 L960.8,831.1 L963.0,829.1 L965.2,827.0 L967.4,825.0 L969.6,822.9 L971.8,820.9 L974.0,818.9 L976.2,816.8 L978.4,814.8 L980.6,812.7 L982.8,810.6 L985.0,808.6 L987.2,806.5 L989.4,804.5 L991.5,802.4 L993.7,800.4 L995.9,798.3 L998.1,796.2 L1000.3,794.2 L1002.4,792.1 L1004.6,790.0 L1006.8,787.9 L1008.9,785.9 L1011.1,783.8 L1013.3,781.7 L1015.4,779.6 L1017.6,777.5 L1019.7,775.4 L1021.9,773.4 L1024.0,771.3 L1026.2,769.2 L1028.3,767.1 L1030.5,765.0 L1032.6,762.9 L1034.8,760.8 L1036.9,758.7 L1039.0,756.6 L1041.2,754.5 L1043.3,752.3 L1045.4,750.2 L1047.5,748.1 L1049.6,746.0 L1051.8,743.9 L1053.9,741.7 L1056.0,739.6 L1058.1,737.5 L1060.2,735.4 L1062.3,733.2 L1064.4,731.1 L1066.5,729.0 L1068.6,726.8 L1070.7,724.7 L1072.8,722.5 L1074.9,720.4 L1077.0,718.2 L1079.1,716.1 L1081.2,713.9 L1083.2,711.8 L1085.3,709.6 L1087.4,707.5 L1089.5,705.3 L1091.6,703.1 L1093.7,701.0 L1095.7,698.8 L1097.8,696.6 L1099.9,694.5 L1102.0,692.3 L1104.0,690.1 L1106.1,687.9 L1108.2,685.8 L1110.2,683.6 L1112.3,681.4 L1114.3,679.2 L1116.4,677.0 L1118.5,674.8 L1120.5,672.6 L1122.6,670.4 L1124.6,668.2 L1126.7,666.0 L1128.7,663.8 L1130.7,661.6 L1132.8,659.4 L1134.8,657.2 L1136.9,655.0 L1138.9,652.8 L1140.9,650.6 L1142.9,648.4 L1145.0,646.2 L1147.0,643.9 L1149.0,641.7 L1151.0,639.5 L1153.1,637.3 L1155.1,635.0 L1157.1,632.8 L1159.1,630.6 L1161.1,628.3 L1163.1,626.1 L1165.1,623.9 L1167.1,621.6 L1169.1,619.4 L1171.1,617.1 L1173.1,614.9 L1175.1,612.7 L1177.0,610.4 L1179.0,608.1 L1181.0,605.9 L1183.0,603.6 L1184.9,601.4 L1186.9,599.1 L1188.9,596.9 L1190.8,594.6 L1192.8,592.3 L1194.8,590.1 L1196.7,587.8 L1198.7,585.5 L1200.6,583.2 L1202.6,581.0 L1204.5,578.7 L1206.4,576.4 L1208.4,574.1 L1210.3,571.8 L1212.2,569.5 L1214.1,567.2 L1216.1,564.9 L1218.0,562.6 L1219.9,560.2 L1221.8,557.9 L1223.7,555.6 L1225.6,553.3 L1227.5,550.9 L1229.3,548.6 L1231.2,546.2 L1233.1,543.9 L1235.0,541.6 L1236.8,539.2 L1238.7,536.8 L1240.5,534.5 L1242.4,532.1 L1244.2,529.8 L1246.1,527.4 L1247.9,525.0 L1249.8,522.6 L1251.6,520.3 L1253.4,517.9 L1255.2,515.5 L1257.0,513.1 L1258.9,510.7 L1260.7,508.3 L1262.5,506.0 L1264.3,503.6 L1266.1,501.2 L1267.9,498.8 L1269.7,496.4 L1271.4,494.0 L1273.2,491.5 L1275.0,489.1 L1276.8,486.7 L1278.6,484.3 L1280.4,481.9 L1282.1,479.5 L1283.9,477.0 L1285.7,474.6 L1287.4,472.2 L1289.2,469.8 L1290.9,467.3 L1292.7,464.9 L1294.5,462.4 L1296.2,460.0 L1298.0,457.6 L1299.7,455.1 L1301.4,452.7 L1303.2,450.2 L1304.9,447.8 L1306.6,445.3 L1308.4,442.9 L1310.1,440.4 L1311.8,438.0 L1313.6,435.5 L1315.3,433.0 L1317.0,430.6 L1318.7,428.1 L1320.4,425.6 L1322.1,423.2 L1323.8,420.7 L1325.5,418.2 L1327.2,415.8 L1328.9,413.3 L1330.6,410.8 L1332.3,408.3 L1334.0,405.9 L1335.7,403.4 L1337.4,400.9 L1339.1,398.4 L1340.8,395.9 L1342.4,393.4 L1344.1,391.0 L1345.8,388.5 L1347.5,386.0 L1349.1,383.5 L1350.7,381.0 L1352.4,378.4 L1354.0,375.9 L1355.6,373.4 L1357.2,370.9 L1358.8,368.3 L1360.4,365.8 L1362.0,363.3 L1363.6,360.7 L1365.3,358.2 L1366.9,355.7 L1368.5,353.1 L1370.1,350.6 L1371.7,348.0 L1373.3,345.5 L1374.9,343.0 L1376.5,340.4 L1378.1,337.9 L1379.7,335.3 L1381.3,332.8 L1382.9,330.3 L1384.5,327.7 L1386.1,325.2 L1387.7,322.6 L1389.3,320.0 L1390.8,317.5 L1392.4,314.9 L1393.9,312.3 L1395.5,309.8 L1397.0,307.2 L1398.5,304.6 L1400.1,302.0 L1401.6,299.4 L1403.1,296.8 L1404.5,294.2 L1406.0,291.6 L1407.5,289.0 L1408.9,286.4 L1410.4,283.8 L1411.8,281.1 L1413.2,278.5 L1414.6,275.9 L1416.0,273.2 L1417.3,270.5 L1418.7,267.9 L1420.0,265.2 L1421.4,262.5 L1422.7,259.8 L1424.0,257.1 L1425.3,254.4 L1426.6,251.7 L1427.9,249.0 L1429.2,246.2 L1430.5,243.5 L1431.7,240.8 L1433.0,238.1 L1434.3,235.4 L1435.5,232.6 L1436.8,229.9 L1438.1,227.2 L1439.3,224.5 L1440.6,221.8 L1441.9,219.0 L1443.2,216.3 L1444.5,213.6 L1445.8,210.9 L1447.1,208.2 L1448.4,205.5 L1449.7,202.7 L1451.0,200.0 L1452.3,197.3 L1453.6,194.6 L1454.8,191.9 L1456.1,189.1 L1457.4,186.4 L1458.6,183.7 L1459.8,180.9 L1461.1,178.2 L1462.3,175.4 L1463.4,172.7 L1464.6,169.9 L1465.7,167.1 L1466.8,164.4 L1467.9,161.6 L1469.0,158.8 L1470.0,156.0 L1471.0,153.2 L1472.0,150.4 L1472.9,147.5 L1473.8,144.7 L1474.8,141.9 L1475.7,139.0 L1476.6,136.2 L1477.5,133.3 L1478.4,130.5 L1479.2,127.6 L1480.1,124.7 L1480.9,121.8 L1481.7,118.9 L1482.5,116.1 L1483.3,113.2 L1484.1,110.3 L1484.9,107.3 L1485.6,104.4 L1486.4,101.5 L1487.1,98.6 L1487.8,95.6 L1488.5,92.7 L1489.1,89.8 L1489.8,86.8 L1490.4,83.9 L1491.0,80.9" stroke="#FF7F00" stroke-dasharray="17.78,17.78"/>
<path d="M329.3,1242.6 L332.2,1241.6 L335.0,1240.6 L337.9,1239.7 L340.7,1238.7 L343.6,1237.7 L346.4,1236.6 L349.3,1235.6 L352.1,1234.6 L355.0,1233.6 L357.8,1232.5 L360.6,1231.5 L363.4,1230.4 L366.3,1229.4 L369.1,1228.3 L371.9,1227.2 L374.7,1226.2 L377.5,1225.1 L380.3,1224.0 L383.1,1222.9 L385.9,1221.8 L388.7,1220.6 L391.5,1219.5 L394.3,1218.4 L397.1,1217.3 L399.9,1216.1 L402.7,1215.0 L405.5,1213.8 L408.2,1212.7 L411.0,1211.5 L413.8,1210.3 L416.5,1209.1 L419.3,1208.0 L422.0,1206.8 L424.8,1205.6 L427.6,1204.4 L430.3,1203.2 L433.0,1201.9 L435.8,1200.7 L438.5,1199.5 L441.2,1198.3 L444.0,1197.0 L446.7,1195.8 L449.4,1194.5 L452.1,1193.3 L454.8,1192.0 L457.6,1190.7 L460.3,1189.5 L463.0,1188.2 L465.7,1186.9 L468.4,1185.6 L471.0,1184.3 L473.7,1183.0 L476.4,1181.7 L479.1,1180.4 L481.8,1179.1 L484.4,1177.7 L487.1,1176.4 L489.8,1175.0 L492.4,1173.7 L495.1,1172.3 L497.8,1170.9 L500.4,1169.5 L503.1,1168.1 L505.7,1166.7 L508.3,1165.2 L511.0,1163.8 L513.6,1162.4 L516.2,1160.9 L518.9,1159.4 L521.5,1158.0 L524.1,1156.5 L526.7,1155.0 L529.3,1153.5 L532.0,1152.0 L534.6,1150.5 L537.2,1149.0 L539.8,1147.5 L542.4,1146.0 L545.0,1144.4 L547.6,1142.9 L550.2,1141.4 L552.7,1139.8 L555.3,1138.3 L557.9,1136.7 L560.5,1135.1 L563.1,1133.6 L565.6,1132.0 L568.2,1130.4 L570.8,1128.9 L573.3,1127.3 L575.9,1125.7 L578.5,1124.1 L581.0,1122.5 L583.6,1120.9 L586.1,1119.3 L588.7,1117.7 L591.2,1116.1 L593.8,1114.5 L596.3,1112.9 L598.9,1111.3 L601.4,1109.7 L604.0,1108.1 L606.5,1106.4 L609.0,1104.8 L611.6,1103.2 L614.1,1101.6 L616.6,1100.0 L619.1,1098.4 L621.7,1096.8 L624.2,1095.1 L626.7,1093.5 L629.2,1091.9 L631.7,1090.2 L634.2,1088.6 L636.7,1086.9 L639.2,1085.3 L641.7,1083.6 L644.2,1081.9 L646.7,1080.2 L649.2,1078.6 L651.7,1076.9 L654.1,1075.2 L656.6,1073.5 L659.1,1071.8 L661.6,1070.1 L664.0,1068.4 L666.5,1066.7 L669.0,1064.9 L671.4,1063.2 L673.9,1061.5 L676.3,1059.8 L678.8,1058.0 L681.3,1056.3 L683.7,1054.5 L686.2,1052.8 L688.6,1051.1 L691.0,1049.3 L693.5,1047.6 L695.9,1045.8 L698.4,1044.0 L700.8,1042.3 L703.2,1040.5 L705.7,1038.7 L708.1,1037.0 L710.6,1035.2 L713.0,1033.4 L715.4,1031.7 L717.8,1029.9 L720.3,1028.1 L722.7,1026.3 L725.1,1024.6 L727.6,1022.8 L730.0,1021.0 L732.4,1019.2 L734.8,1017.4 L737.3,1015.7 L739.7,1013.9 L742.1,1012.1 L744.5,1010.3 L746.9,1008.5 L749.4,1006.7 L751.8,1005.0 L754.2,1003.2 L756.6,1001.4 L759.0,999.6 L761.5,997.8 L763.9,996.1 L766.3,994.3 L768.7,992.5 L771.1,990.7 L773.6,988.9 L776.0,987.2 L778.4,985.4 L780.8,983.6 L783.2,981.8 L785.6,980.0 L788.1,978.2 L790.5,976.4 L792.9,974.6 L795.3,972.8 L797.7,971.0 L800.1,969.2 L802.5,967.4 L804.9,965.5 L807.2,963.7 L809.6,961.9 L812.0,960.0 L814.4,958.2 L816.7,956.3 L819.1,954.5 L821.4,952.6 L823.8,950.7 L826.1,948.8 L828.4,946.9 L830.8,945.1 L833.1,943.2 L835.4,941.2 L837.7,939.3 L840.0,937.4 L842.3,935.5 L844.6,933.6 L846.9,931.6 L849.2,929.7 L851.5,927.7 L853.8,925.8 L856.1,923.8 L858.4,921.9 L860.7,919.9 L862.9,918.0 L865.2,916.0 L867.5,914.0 L869.7,912.0 L872.0,910.1 L874.3,908.1 L876.5,906.1 L878.8,904.1 L881.0,902.1 L883.3,900.1 L885.6,898.1 L887.8,896.2 L890.0,894.2 L892.3,892.2 L894.5,890.2 L896.8,888.2 L899.0,886.2 L901.3,884.2 L903.5,882.1 L905.7,880.1 L908.0,878.1 L910.2,876.1 L912.4,874.1 L914.7,872.1 L916.9,870.1 L919.1,868.1 L921.4,866.1 L923.6,864.1 L925.8,862.1 L928.0,860.0 L930.3,858.0 L932.5,856.0 L934.7,854.0 L936.9,852.0 L939.2,849.9 L941.4,847.9 L943.6,845.9 L945.8,843.9 L948.1,841.8 L950.3,839.8 L952.5,837.8 L954.7,835.7 L956.9,833.7 L959.1,831.7 L961.3,829.6 L963.5,827.6 L965.7,825.5 L968.0,823.5 L970.2,821.4 L972.4,819.4 L974.6,817.3 L976.8,815.3 L979.0,813.2 L981.2,811.2 L983.3,809.1 L985.5,807.1 L987.7,805.0 L989.9,803.0 L992.1,800.9 L994.3,798.8 L996.5,796.8 L998.6,794.7 L1000.8,792.6 L1003.0,790.5 L1005.2,788.5 L1007.3,786.4 L1009.5,784.3 L1011.7,782.2 L1013.8,780.1 L1016.0,778.1 L1018.2,776.0 L1020.3,773.9 L1022.5,771.8 L1024.6,769.7 L1026.8,767.6 L1028.9,765.5 L1031.1,763.4 L1033.2,761.3 L1035.4,759.2 L1037.5,757.1 L1039.6,755.0 L1041.8,752.8 L1043.9,750.7 L1046.0,748.6 L1048.1,746.5 L1050.3,744.4 L1052.4,742.2 L1054.5,740.1 L1056.6,738.0 L1058.7,735.8 L1060.8,733.7 L1062.9,731.6 L1065.0,729.4 L1067.1,727.3 L1069.2,725.2 L1071.3,723.0 L1073.4,720.9 L1075.5,718.7 L1077.6,716.6 L1079.7,714.4 L1081.8,712.2 L1083.9,710.1 L1086.0,707.9 L1088.1,705.8 L1090.2,703.6 L1092.3,701.4 L1094.3,699.3 L1096.4,697.1 L1098.5,694.9 L1100.6,692.7 L1102.6,690.6 L1104.7,688.4 L1106.8,686.2 L1108.9,684.0 L1110.9,681.8 L1113.0,679.7 L1115.0,677.5 L1117.1,675.3 L1119.2,673.1 L1121.2,670.9 L1123.3,668.7 L1125.3,666.5 L1127.4,664.3 L1129.4,662.1 L1131.5,659.9 L1133.5,657.7 L1135.5,655.4 L1137.6,653.2 L1139.6,651.0 L1141.6,648.8 L1143.7,646.6 L1145.7,644.4 L1147.7,642.1 L1149.8,639.9 L1151.8,637.7 L1153.8,635.5 L1155.8,633.2 L1157.8,631.0 L1159.8,628.8 L1161.8,626.5 L1163.8,624.3 L1165.8,622.0 L1167.8,619.8 L1169.8,617.5 L1171.8,615.3 L1173.8,613.0 L1175.8,610.8 L1177.8,608.5 L1179.8,606.3 L1181.8,604.0 L1183.7,601.8 L1185.7,599.5 L1187.7,597.2 L1189.6,595.0 L1191.6,592.7 L1193.6,590.4 L1195.5,588.2 L1197.5,585.9 L1199.4,583.6 L1201.4,581.3 L1203.3,579.0 L1205.3,576.8 L1207.2,574.5 L1209.1,572.2 L1211.1,569.9 L1213.0,567.5 L1214.9,565.2 L1216.8,562.9 L1218.8,560.6 L1220.7,558.3 L1222.6,556.0 L1224.5,553.6 L1226.4,551.3 L1228.2,548.9 L1230.1,546.6 L1232.0,544.3 L1233.9,541.9 L1235.8,539.6 L1237.6,537.2 L1239.5,534.8 L1241.3,532.5 L1243.2,530.1 L1245.0,527.7 L1246.9,525.4 L1248.7,523.0 L1250.6,520.6 L1252.4,518.2 L1254.2,515.8 L1256.0,513.5 L1257.8,511.1 L1259.7,508.7 L1261.5,506.3 L1263.3,503.9 L1265.1,501.5 L1266.9,499.1 L1268.7,496.7 L1270.5,494.3 L1272.3,491.9 L1274.1,489.4 L1275.8,487.0 L1277.6,484.6 L1279.4,482.2 L1281.2,479.8 L1283.0,477.3 L1284.7,474.9 L1286.5,472.5 L1288.3,470.0 L1290.0,467.6 L1291.8,465.2 L1293.5,462.7 L1295.3,460.3 L1297.0,457.8 L1298.8,455.4 L1300.5,453.0 L1302.3,450.5 L1304.0,448.1 L1305.8,445.6 L1307.5,443.1 L1309.2,440.7 L1310.9,438.2 L1312.7,435.8 L1314.4,433.3 L1316.1,430.8 L1317.8,428.4 L1319.6,425.9 L1321.3,423.4 L1323.0,421.0 L1324.7,418.5 L1326.4,416.0 L1328.1,413.5 L1329.8,411.0 L1331.5,408.6 L1333.2,406.1 L1334.9,403.6 L1336.6,401.1 L1338.2,398.6 L1339.9,396.1 L1341.6,393.7 L1343.3,391.2 L1345.0,388.7 L1346.6,386.2 L1348.3,383.7 L1350.0,381.2 L1351.6,378.7 L1353.2,376.1 L1354.8,373.6 L1356.5,371.1 L1358.1,368.5 L1359.7,366.0 L1361.3,363.4 L1362.9,360.9 L1364.5,358.4 L1366.1,355.8 L1367.7,353.3 L1369.4,350.8 L1371.0,348.2 L1372.6,345.7 L1374.2,343.1 L1375.8,340.6 L1377.4,338.1 L1379.0,335.5 L1380.6,333.0 L1382.2,330.4 L1383.8,327.9 L1385.4,325.3 L1387.0,322.7 L1388.6,320.2 L1390.1,317.6 L1391.7,315.0 L1393.2,312.5 L1394.8,309.9 L1396.3,307.3 L1397.9,304.7 L1399.4,302.1 L1400.9,299.6 L1402.4,297.0 L1403.9,294.4 L1405.4,291.7 L1406.9,289.1 L1408.3,286.5 L1409.8,283.9 L1411.2,281.3 L1412.6,278.6 L1414.0,276.0 L1415.4,273.3 L1416.8,270.6 L1418.1,268.0 L1419.5,265.3 L1420.8,262.6 L1422.2,259.9 L1423.5,257.2 L1424.8,254.5 L1426.1,251.8 L1427.4,249.1 L1428.7,246.4 L1429.9,243.6 L1431.2,240.9 L1432.5,238.2 L1433.8,235.5 L1435.0,232.7 L1436.3,230.0 L1437.6,227.3 L1438.8,224.5 L1440.1,221.8 L1441.4,219.1 L1442.7,216.4 L1444.0,213.7 L1445.2,210.9 L1446.6,208.2 L1447.9,205.5 L1449.2,202.8 L1450.5,200.1 L1451.8,197.3 L1453.0,194.6 L1454.3,191.9 L1455.6,189.1 L1456.9,186.4 L1458.1,183.7 L1459.4,180.9 L1460.6,178.2 L1461.8,175.4 L1463.0,172.7 L1464.1,169.9 L1465.3,167.1 L1466.4,164.4 L1467.5,161.6 L1468.6,158.8 L1469.6,156.0 L1470.6,153.2 L1471.6,150.4 L1472.6,147.5 L1473.5,144.7 L1474.5,141.9 L1475.4,139.0 L1476.3,136.2 L1477.2,133.3 L1478.1,130.5 L1479.0,127.6 L1479.8,124.7 L1480.7,121.8 L1481.5,118.9 L1482.4,116.1 L1483.2,113.2 L1484.0,110.3 L1484.7,107.3 L1485.5,104.4 L1486.2,101.5 L1487.0,98.6 L1487.7,95.6 L1488.4,92.7 L1489.1,89.8 L1489.7,86.8 L1490.4,83.9 L1491.0,80.9" stroke="#A65628" stroke-dasharray="4.45,13.34"/>
<path d="M271.2,1300.7L1549.1,22.8" stroke="#000" stroke-dasharray="17.78,17.78"/>
</g>
<g class="ax" text-anchor="end">
<text x="251.4" y="1255.9">0.00</text>
<text x="251.4" y="965.5">0.25</text>
<text x="251.4" y="675.0">0.50</text>
<text x="251.4" y="384.6">0.75</text>
<text x="251.4" y="94.2">1.00</text>
</g><g class="ax" text-anchor="middle">
<text x="329.3" y="1347.6">0.00</text>
<text x="619.7" y="1347.6">0.25</text>
<text x="910.2" y="1347.6">0.50</text>
<text x="1200.6" y="1347.6">0.75</text>
<text x="1491.0" y="1347.6">1.00</text>
</g>
<g fill="none" stroke-width="4.4457">
<path d="M1625,529H1682.6" stroke="#377EB8"/>
<path d="M1625,601H1682.6" stroke="#4DAF4A" stroke-dasharray="8.89,8.89"/>
<path d="M1625,673H1682.6" stroke="#984EA3" stroke-dasharray="17.78,8.89"/>
<path d="M1625,745H1682.6" stroke="#FF7F00" stroke-dasharray="17.78,17.78"/>
<path d="M1625,817H1682.6" stroke="#A65628" stroke-dasharray="4.45,13.34"/>
</g><g class="lg">
<text x="1712.3 1732.5 1752.6 1772.8 1793.0 1805.1 1825.2 1845.4 1857.5 1877.6" y="543.0">2020-03-08</text>
<text x="1712.3 1732.5 1752.6 1772.8 1793.0 1805.1 1825.2 1845.4 1857.5 1877.6" y="615.0">2020-04-02</text>
<text x="1712.3 1732.5 1752.6 1772.8 1793.0 1805.1 1825.2 1845.4 1857.5 1877.6" y="687.0">2021-01-30</text>
<text x="1712.3 1732.5 1752.6 1772.8 1793.0 1805.1 1825.2 1845.4 1857.5 1877.6" y="759.0">2021-02-06</text>
<text x="1712.3 1732.5 1752.6 1772.8 1793.0 1805.1 1825.2 1845.4 1857.5 1877.6" y="831.0">2021-02-13</text>
</g>
<text class="lg" x="271.2 300.2 320.2 340.3 348.3 356.3 376.3 386.3 396.3 422.4 442.4 462.4 482.4 494.4 504.4 514.4 538.5 558.5 576.5 596.5 608.5 618.5 638.6 656.6 666.6 674.6 684.6 704.6 714.6 724.7 736.7 762.7 786.7 796.7 808.7 818.7 828.8 848.8 856.8 868.8 888.8 908.8 918.8 938.9 956.9 968.9 988.9 1000.9 1020.9 1031.0 1041.0 1065.0 1085.0 1097.0 1117.0 1135.1 1155.1 1175.1 1195.1 1215.1 1235.2 1255.2 1275.2 1285.2 1295.2 1319.2 1337.3 1345.3 1365.3 1385.3 1403.3 1423.4 1433.4 1464.4 1484.4 1504.4 1512.4 1532.5 1542.5 1568.5 1588.5 1608.5 1618.5 1638.6 1650.6 1660.6 1689.6 1709.6 1721.6 1752.7 1772.7 1792.7" y="1406.7">Quelle: Robert Koch-Institut (RKI), dl-de/by-2-0, Berechnungen: Science Media Center Germany</text>
<g id="smc-logo">
<polygon points="150.3,1338.7 177,1324 180,1308.3 207.5,1319.3 234.4,1302.7 269.4,1321.3 258,1351.4 255.5,1344.5 246,1342.7 238,1351.4 231.4,1354.7 215.3,1360 206,1374.7 187,1388.1 164.3,1365.4 165,1354 163.7,1352.7" fill="#D5C253"/>
<text y="1353.2" style="font-size:56px;font-weight:bold;fill:#fff;stroke:#fff;stroke-width:1.6px"><tspan x="166" textLength="20" lengthAdjust="spacingAndGlyphs">s</tspan><tspan x="189.5" textLength="42" lengthAdjust="spacingAndGlyphs">m</tspan><tspan x="233" textLength="28" lengthAdjust="spacingAndGlyphs">c</tspan></text>
<g fill="none" stroke="#FDF3E4" stroke-width="0.9">
<path d="M183.7,1312.7L185,1382.7M187.7,1324L188.4,1382.7" stroke-dasharray="4,2.5"/>
<path d="M187,1388.1L201,1354.7M234.4,1302.7L247,1323M269.4,1321.3L256,1344M234.4,1302.7L226,1325M180,1308.3L190,1326M234.4,1302.7L254,1322" stroke-dasharray="1.3,1.6"/>
<path d="M205,1354L205.3,1375M150.3,1338.7L166,1340M233.3,1304L234.7,1331"/>
<path d="M164.3,1365.4L185,1353M182,1322.5L226,1323.5M153,1340L166,1346M205,1354L216,1360" stroke-dasharray="3,2"/>
</g>
</g>

</svg></body></html>
